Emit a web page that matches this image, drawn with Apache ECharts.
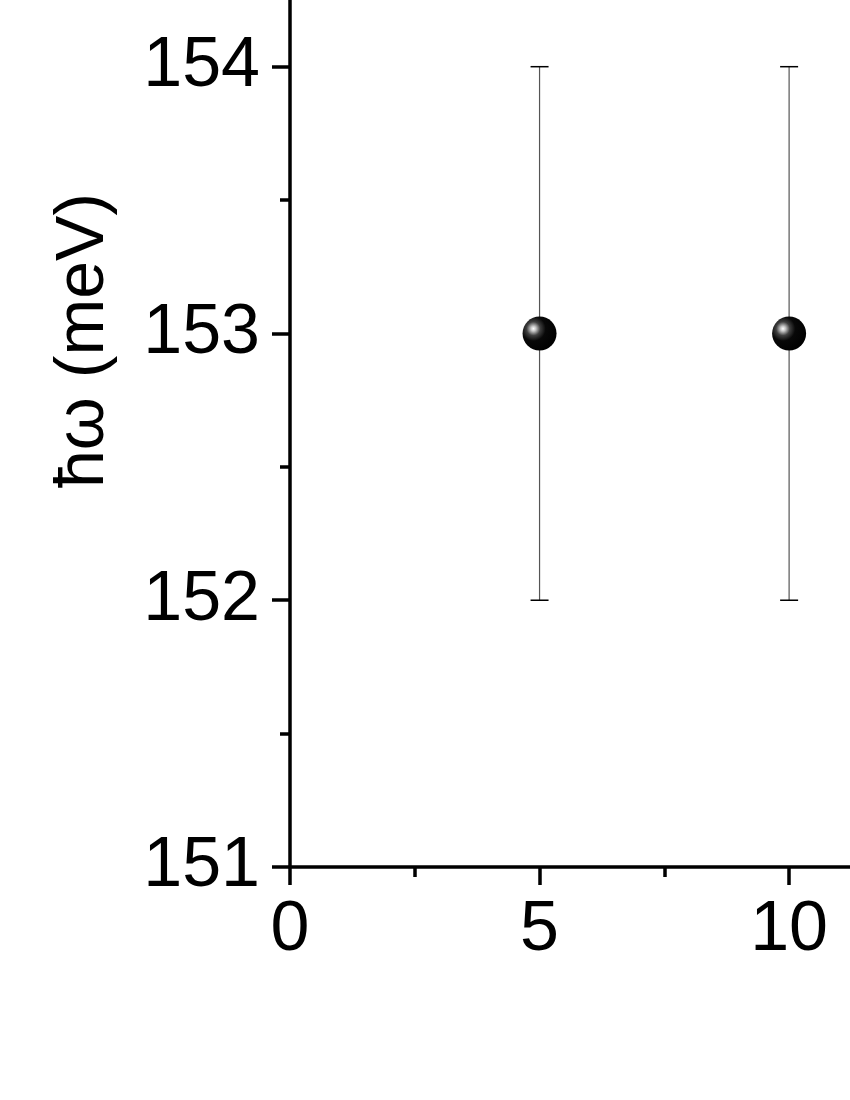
<!DOCTYPE html>
<html>
<head>
<meta charset="utf-8">
<script src="https://cdn.jsdelivr.net/npm/echarts@6/dist/echarts.min.js"></script>
<style>
html,body{margin:0;padding:0;background:#fff;}
#chart{width:850px;height:1100px;}
</style>
</head>
<body>
<div id="chart"></div>
<script>
// ---- data ----
var xValues = [5, 10];
var yValues = [153, 153];
var yErrors = [1, 1];
var xTickLabels = [0, 5, 10];
var yTickLabels = [151, 152, 153, 154];
var yAxisTitle = 'ħω (meV)';

var points = xValues.map(function (x, i) { return [x, yValues[i]]; });
var errData = xValues.map(function (x, i) {
  return [x, yValues[i] - yErrors[i], yValues[i] + yErrors[i]];
});

var chart = echarts.init(document.getElementById('chart'), null, {renderer: 'canvas'});
var font = 'Liberation Sans, Arial, sans-serif';

chart.setOption({
  animation: false,
  backgroundColor: '#fff',
  grid: {left: 290, right: 0, top: 0, bottom: 233, containLabel: false},
  xAxis: {
    type: 'value',
    min: 0, max: 11.22, interval: 5,
    splitLine: {show: false},
    axisLine: {show: true, lineStyle: {color: '#000', width: 3.5}},
    axisTick: {show: true, inside: false, length: 18, lineStyle: {color: '#000', width: 3.5}, customValues: xTickLabels},
    minorTick: {show: true, splitNumber: 2, length: 10, lineStyle: {color: '#000', width: 3.5}},
    axisLabel: {show: true, margin: 29, color: '#000', fontFamily: font, fontSize: 70,
      customValues: xTickLabels}
  },
  yAxis: {
    type: 'value',
    min: 151, max: 154.25, interval: 1,
    splitLine: {show: false},
    axisLine: {show: true, lineStyle: {color: '#000', width: 3.5}},
    axisTick: {show: true, inside: false, length: 18, lineStyle: {color: '#000', width: 3.5}, customValues: yTickLabels},
    minorTick: {show: true, splitNumber: 2, length: 10, lineStyle: {color: '#000', width: 3.5}},
    axisLabel: {show: true, margin: 30, color: '#000', fontFamily: font, fontSize: 70,
      customValues: yTickLabels},
    name: yAxisTitle,
    nameLocation: 'middle',
    nameGap: 172,
    nameTextStyle: {color: '#000', fontFamily: font, fontSize: 68, padding: [0, 0, 0, 186]}
  },
  series: [
    {
      type: 'custom',
      data: errData,
      z: 1,
      renderItem: function (params, api) {
        var x = api.value(0);
        var lo = api.coord([x, api.value(1)]);
        var hi = api.coord([x, api.value(2)]);
        var cap = 9;
        return {
          type: 'group',
          children: [
            {type: 'line', shape: {x1: lo[0], y1: lo[1], x2: hi[0], y2: hi[1]},
              style: {stroke: '#555', lineWidth: 1.2}},
            {type: 'line', shape: {x1: hi[0] - cap, y1: hi[1], x2: hi[0] + cap, y2: hi[1]},
              style: {stroke: '#000', lineWidth: 1.5}},
            {type: 'line', shape: {x1: lo[0] - cap, y1: lo[1], x2: lo[0] + cap, y2: lo[1]},
              style: {stroke: '#000', lineWidth: 1.5}}
          ]
        };
      }
    },
    {
      type: 'scatter',
      data: points,
      z: 3,
      symbol: 'circle',
      symbolSize: 34,
      itemStyle: {
        opacity: 1,
        color: new echarts.graphic.RadialGradient(0.32, 0.36, 0.72, [
          {offset: 0, color: '#ffffff'},
          {offset: 0.1, color: '#c8c8c8'},
          {offset: 0.28, color: '#404040'},
          {offset: 0.5, color: '#080808'},
          {offset: 1, color: '#000000'}
        ])
      }
    }
  ]
});
</script>
</body>
</html>
